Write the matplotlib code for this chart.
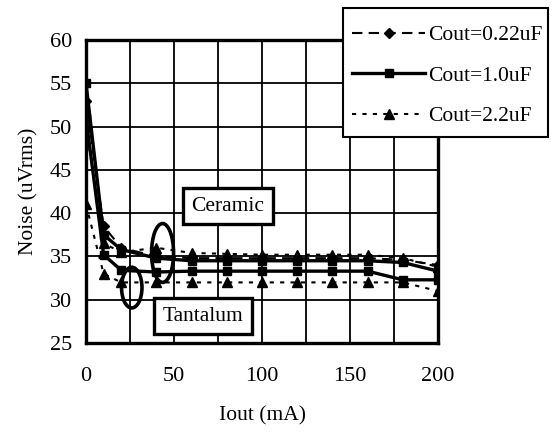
import matplotlib
matplotlib.use("Agg")
import matplotlib.pyplot as plt
from matplotlib.patches import Ellipse, Rectangle
from matplotlib.lines import Line2D

plt.rcParams['font.family'] = ['Liberation Serif', 'DejaVu Serif']

# Output current (mA)
iout = [0, 10, 20, 40, 60, 80, 100, 120, 140, 160, 180, 200]

# Noise (uVrms) – ceramic output capacitors
cer_022 = [53.0, 38.5, 36.0, 35.0, 34.8, 34.8, 34.8, 34.8, 34.8, 34.8, 34.6, 34.0]
cer_10 = [55.0, 37.5, 35.8, 34.8, 34.5, 34.5, 34.5, 34.5, 34.5, 34.5, 34.3, 33.3]
cer_22 = [50.0, 36.5, 35.5, 36.0, 35.4, 35.3, 35.2, 35.2, 35.2, 35.2, 34.8, 33.8]

# Noise (uVrms) – tantalum output capacitors
tan_10 = [51.0, 35.2, 33.4, 33.2, 33.3, 33.3, 33.3, 33.3, 33.3, 33.3, 32.3, 32.3]
tan_22 = [41.0, 33.0, 32.0, 32.0, 32.0, 32.0, 32.0, 32.0, 32.0, 32.0, 32.0, 31.0]

legend_labels = ["Cout=0.22uF", "Cout=1.0uF", "Cout=2.2uF"]

x_ticks = [0, 50, 100, 150, 200]
y_ticks = [25, 30, 35, 40, 45, 50, 55, 60]

fig = plt.figure(figsize=(5.57, 4.32), dpi=100)
ax = fig.add_axes([0.1544, 0.206, 0.632, 0.7014])

style_022 = dict(color='black', lw=1.5, ls=(0, (5, 3)), marker='D', ms=5)
style_10 = dict(color='black', lw=2.4, ls='-', marker='s', ms=5.5)
style_22 = dict(color='black', lw=1.5, ls=(0, (2, 3)), marker='^', ms=6.5)

ax.plot(iout, cer_022, **style_022, zorder=3)
ax.plot(iout, cer_10, **style_10, zorder=3)
ax.plot(iout, cer_22, **style_22, zorder=3)
ax.plot(iout, tan_10, **style_10, zorder=3)
ax.plot(iout, tan_22, **style_22, zorder=3)

ax.set_xlim(0, 200)
ax.set_ylim(25, 60)
ax.set_xticks(x_ticks)
ax.set_xticks([25, 75, 125, 175], minor=True)
ax.set_yticks(y_ticks)
ax.grid(True, which='both', color='black', lw=1.3)
ax.set_axisbelow(True)
ax.tick_params(which='both', length=0)
ax.tick_params(axis='x', pad=17, labelsize=16)
ax.tick_params(axis='y', pad=10, labelsize=16)
for s in ax.spines.values():
    s.set_linewidth(2.4)
    s.set_color('black')

ax.set_xlabel("Iout (mA)", fontsize=15.5, labelpad=15)
ax.set_ylabel("Noise (uVrms)", fontsize=15.5, labelpad=8)

# Group annotations
box = dict(boxstyle='square,pad=0.4', fc='white', ec='black', lw=2.4)
ax.text(80.5, 40.8, "Ceramic", fontsize=15.5, ha='center', va='center', bbox=box, zorder=5)
ax.text(66.5, 28.1, "Tantalum", fontsize=15.5, ha='center', va='center', bbox=box, zorder=5)
ax.add_patch(Ellipse((43.5, 35.4), 12.5, 6.8, fill=False, ec='black', lw=2.6, zorder=4))
ax.add_patch(Ellipse((26, 31.4), 11.6, 4.7, fill=False, ec='black', lw=2.6, zorder=4))

# Legend frame drawn separately so the padding can be set per side
fig.patches.append(Rectangle((0.6158, 0.6829), 0.368, 0.2986, transform=fig.transFigure,
                             fc='white', ec='black', lw=1.5, zorder=9))
handles = [Line2D([], [], **style_022), Line2D([], [], **style_10), Line2D([], [], **style_22)]
leg = fig.legend(handles, legend_labels, loc='upper left',
                 bbox_to_anchor=(0.632, 0.942), fontsize=15.5,
                 frameon=False, handlelength=3.4, labelspacing=0.95,
                 borderpad=0, handletextpad=0.15, borderaxespad=0)
leg.set_zorder(10)

fig.savefig("out.png", dpi=100)
